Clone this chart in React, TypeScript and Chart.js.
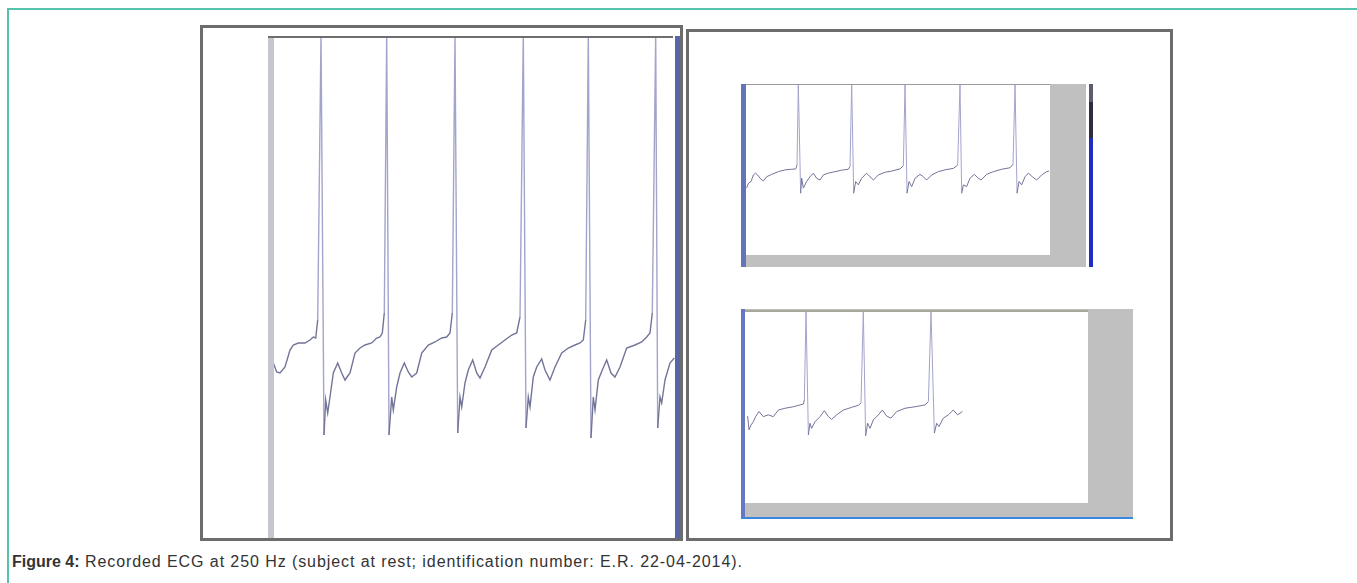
import React, { useEffect, useRef } from "react";
import { Chart, registerables } from "chart.js";

Chart.register(...registerables);

// Main recording (left panel): time in s, amplitude in mV
const leftTime = [
  0.033, 0.067, 0.1, 0.15, 0.2, 0.233, 0.283, 0.35, 0.4, 0.433, 0.457, 0.477, 0.51, 0.54,
  0.557, 0.577, 0.6, 0.633, 0.677, 0.717, 0.75, 0.8, 0.85, 0.9, 0.95, 1.017, 1.067, 1.1, 1.123, 1.143, 1.167, 1.19,
  1.217, 1.233, 1.267, 1.3, 1.343, 1.383, 1.417, 1.467, 1.517, 1.583, 1.65, 1.717, 1.767, 1.8, 1.823, 1.85, 1.877,
  1.9, 1.917, 1.95, 1.983, 2.027, 2.067, 2.1, 2.15, 2.217, 2.283, 2.35, 2.417, 2.467, 2.5, 2.533, 2.56,
  2.583, 2.6, 2.633, 2.667, 2.717, 2.75, 2.8, 2.85, 2.917, 2.983, 3.05, 3.1, 3.133, 3.157, 3.183, 3.21,
  3.233, 3.25, 3.283, 3.323, 3.367, 3.41, 3.45, 3.5, 3.567, 3.65, 3.717, 3.767, 3.8, 3.823, 3.857, 3.877,
  3.9, 3.917, 3.95, 4.0, 4.043,
];
const leftMv = [
  -0.33, -0.42, -0.43, -0.37, -0.2, -0.15, -0.13, -0.13, -0.1, -0.07, -0.08, 0.1, 2.95, -1.05,
  -0.7, -0.83, -0.67, -0.43, -0.33, -0.43, -0.5, -0.43, -0.23, -0.18, -0.15, -0.13, -0.08, -0.07, -0.03, 0.17, 2.95, -1.05,
  -0.67, -0.8, -0.57, -0.43, -0.33, -0.42, -0.47, -0.43, -0.23, -0.15, -0.12, -0.08, -0.07, -0.03, 0.17, 2.95, -1.03,
  -0.67, -0.77, -0.53, -0.4, -0.3, -0.43, -0.48, -0.37, -0.2, -0.15, -0.1, -0.05, -0.03, 0.13, 2.95, -0.98,
  -0.67, -0.77, -0.47, -0.37, -0.29, -0.4, -0.5, -0.37, -0.23, -0.18, -0.15, -0.13, -0.1, 0.1, 2.95, -1.08,
  -0.67, -0.8, -0.5, -0.4, -0.3, -0.43, -0.47, -0.37, -0.18, -0.15, -0.12, -0.07, -0.03, 0.17, 2.95, -0.98,
  -0.67, -0.73, -0.5, -0.33, -0.28,
];

// Upper small recording (right panel, top)
const upperTime = [
  0.008, 0.029, 0.063, 0.092, 0.121, 0.146, 0.175, 0.217, 0.258, 0.321, 0.404, 0.488, 0.571, 0.621, 0.638, 0.654, 0.683,
  0.696, 0.717, 0.758, 0.8, 0.842, 0.883, 0.925, 0.967, 1.029, 1.113, 1.196, 1.279, 1.3, 1.321, 1.346,
  1.371, 1.404, 1.446, 1.508, 1.55, 1.592, 1.654, 1.738, 1.821, 1.925, 1.967, 1.988, 2.013,
  2.038, 2.071, 2.113, 2.175, 2.217, 2.258, 2.321, 2.404, 2.488, 2.592, 2.646, 2.675, 2.696,
  2.717, 2.758, 2.8, 2.854, 2.896, 2.938, 3.008, 3.092, 3.196, 3.3, 3.338, 3.363, 3.388,
  3.413, 3.446, 3.488, 3.529, 3.579, 3.633, 3.696, 3.758, 3.788,
];
const upperMv = [
  -0.51, -0.35, -0.29, -0.07, -0.01, -0.07, -0.18, -0.27, -0.13, -0.05, 0.04, 0.1, 0.12, 0.13, 0.26, 2.95, -0.68,
  -0.18, -0.51, -0.29, -0.13, -0.01, -0.18, -0.24, -0.07, -0.01, 0.04, 0.09, 0.12, 0.21, 2.95, -0.68,
  -0.29, -0.4, -0.18, -0.01, -0.13, -0.24, -0.07, 0.02, 0.06, 0.13, 0.24, 2.95, -0.68,
  -0.29, -0.46, -0.18, -0.05, -0.13, -0.24, -0.07, 0.04, 0.1, 0.15, 0.26, 2.95, -0.68,
  -0.4, -0.46, -0.18, -0.05, -0.16, -0.24, -0.05, 0.04, 0.12, 0.17, 0.29, 2.95, -0.68,
  -0.29, -0.4, -0.13, -0.01, -0.13, -0.24, -0.07, 0.04, 0.06,
];

// Lower small recording (right panel, bottom)
const lowerTime = [
  0.033, 0.05, 0.075, 0.104, 0.133, 0.175, 0.229, 0.292, 0.354, 0.417, 0.5, 0.604, 0.688, 0.729, 0.742, 0.763, 0.792,
  0.813, 0.833, 0.875, 0.938, 0.992, 1.042, 1.083, 1.146, 1.229, 1.333, 1.417, 1.45, 1.479, 1.508,
  1.533, 1.563, 1.604, 1.667, 1.717, 1.771, 1.825, 1.896, 2.0, 2.125, 2.25, 2.292, 2.325, 2.367,
  2.396, 2.425, 2.479, 2.542, 2.604, 2.658, 2.717,
];
const lowerMv = [
  -0.54, -1.0, -0.84, -0.73, -0.56, -0.39, -0.56, -0.5, -0.56, -0.34, -0.28, -0.23, -0.17, -0.14, 0.0, 2.95, -1.17,
  -0.78, -0.95, -0.73, -0.56, -0.36, -0.56, -0.65, -0.5, -0.34, -0.25, -0.18, -0.11, 2.95, -1.2,
  -0.78, -0.95, -0.67, -0.5, -0.34, -0.54, -0.61, -0.39, -0.28, -0.23, -0.17, -0.06, 2.95, -1.11,
  -0.78, -0.89, -0.61, -0.5, -0.34, -0.5, -0.39,
];

type TraceProps = {
  left: number; top: number; width: number; height: number;
  t: number[]; v: number[];
  xMin: number; xMax: number; yMin: number; yMax: number;
  lineWidth: number;
};

function Trace(p: TraceProps) {
  const ref = useRef<HTMLCanvasElement>(null);
  useEffect(() => {
    const chart = new Chart(ref.current!, {
      type: "line",
      data: {
        datasets: [
          {
            data: p.t.map((x, i) => ({ x, y: p.v[i] })),
            borderColor: "#727498",
            borderWidth: p.lineWidth,
            pointRadius: 0,
            tension: 0,
            segment: {
              borderColor: (ctx: any) =>
                Math.abs(ctx.p1.y - ctx.p0.y) > 60 ? "#a2a4cc" : "#727498",
            },
          },
        ],
      },
      options: {
        animation: false,
        responsive: false,
        devicePixelRatio: 1,
        events: [],
        layout: { padding: 0 },
        scales: {
          x: { type: "linear", display: false, min: p.xMin, max: p.xMax },
          y: { type: "linear", display: false, min: p.yMin, max: p.yMax },
        },
        plugins: { legend: { display: false }, tooltip: { enabled: false } },
      },
    });
    return () => chart.destroy();
  }, []);
  return (
    <canvas
      ref={ref}
      width={p.width}
      height={p.height}
      style={{ position: "absolute", left: p.left, top: p.top, width: p.width, height: p.height }}
    />
  );
}

const box = (left: number, top: number, width: number, height: number, style: React.CSSProperties = {}) => (
  <div style={{ position: "absolute", left, top, width, height, boxSizing: "border-box", ...style }} />
);

export default function App() {
  return (
    <div style={{ position: "fixed", left: 0, top: 0, width: 1357, height: 583, background: "#fff", overflow: "hidden" }}>
      {/* outer teal frame */}
      {box(7, 8, 1420, 700, { borderLeft: "2px solid #55c2ab", borderTop: "2px solid #55c2ab" })}

      {/* left panel */}
      {box(200, 25, 483, 516, { border: "3px solid #6c6c6c" })}
      {box(268, 36, 6, 502, { background: "#c6c6ce" })}
      {box(268, 36, 405, 2, { background: "#6e6e6e" })}
      {box(675, 36, 5, 502, { background: "#5666a8" })}
      <Trace left={274} top={38} width={401} height={500} t={leftTime} v={leftMv}
        xMin={0.04} xMax={4.05} yMin={-2.08} yMax={2.92} lineWidth={1.4} />

      {/* right panel */}
      {box(686, 29, 487, 512, { border: "3px solid #6c6c6c" })}

      {/* upper inset */}
      {box(741, 84, 345, 183, { background: "#c0c0c0" })}
      {box(746, 85, 304, 170, { background: "#ffffff" })}
      {box(741, 84, 309, 1, { background: "#9a9a9a" })}
      {box(741, 84, 5, 183, { background: "#6474b8" })}
      {box(1089, 84, 4, 18, { background: "#5c5c6a" })}
      {box(1089, 102, 4, 36, { background: "#2c2c3c" })}
      {box(1089, 138, 4, 129, { background: "#1c2cc4" })}
      <Trace left={746} top={85} width={304} height={170} t={upperTime} v={upperMv}
        xMin={0} xMax={3.8} yMin={-2.74} yMax={2.93} lineWidth={1} />

      {/* lower inset */}
      {box(741, 309, 392, 209, { background: "#c0c0c0" })}
      {box(745, 312, 343, 191, { background: "#ffffff" })}
      {box(741, 310, 347, 2, { background: "#a8a898" })}
      {box(741, 309, 4, 210, { background: "#6878c0" })}
      {box(741, 517, 392, 2, { background: "#3a86e0" })}
      <Trace left={745} top={312} width={343} height={191} t={lowerTime} v={lowerMv}
        xMin={0} xMax={4.2875} yMin={-3.44} yMax={2.93} lineWidth={1} />

      {/* caption */}
      <div
        style={{
          position: "absolute", left: 12, top: 553, whiteSpace: "nowrap",
          fontFamily: "'Liberation Sans', Arial, sans-serif", fontSize: 16, color: "#333",
        }}
      >
        <b>Figure 4:</b>
        <span style={{ letterSpacing: "0.92px" }}> Recorded ECG at 250 Hz (subject at rest; identification number: E.R. 22-04-2014).</span>
      </div>
    </div>
  );
}
